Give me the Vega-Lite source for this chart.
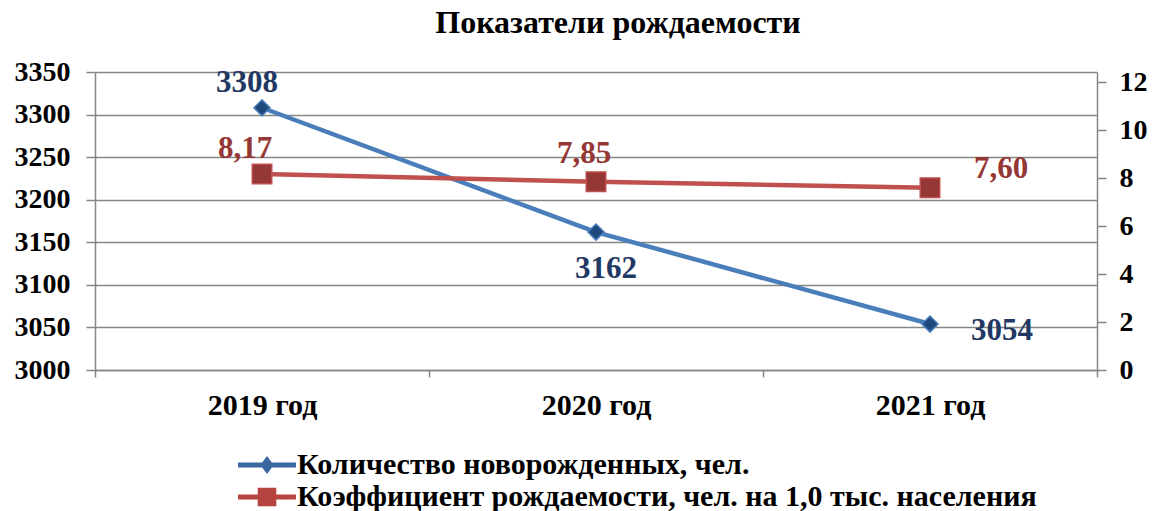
{
  "$schema": "https://vega.github.io/schema/vega-lite/v6.json",
  "autosize": {"type": "none"},
  "padding": {"left": 95, "top": 72, "right": 58, "bottom": 141},
  "width": 1002,
  "height": 298,
  "config": {
    "view": {"stroke": null},
    "locale": {"number": {"decimal": ",", "thousands": "", "grouping": [3], "currency": ["", ""]}},
    "font": "Liberation Serif"
  },
  "title": {
    "text": "Показатели рождаемости",
    "font": "Liberation Serif",
    "fontSize": 32,
    "fontWeight": "bold",
    "color": "#000000",
    "anchor": "middle",
    "offset": 18,
    "dx": 22
  },
  "data": {
    "values": [
      {"year": "2019 год", "births": 3308, "rate": 8.17},
      {"year": "2020 год", "births": 3162, "rate": 7.85},
      {"year": "2021 год", "births": 3054, "rate": 7.6}
    ]
  },
  "encoding": {
    "x": {
      "field": "year",
      "type": "nominal",
      "bandPosition": 0.5,
      "scale": {"type": "band", "paddingInner": 0, "paddingOuter": 0},
      "axis": {
        "title": null,
        "labelAngle": 0,
        "labelFont": "Liberation Serif",
        "labelFontSize": 30,
        "labelFontWeight": "bold",
        "labelColor": "#000000",
        "labelPadding": 13,
        "tickBand": "extent",
        "tickSize": 7,
        "tickColor": "#868686",
        "tickWidth": 1.5,
        "domainColor": "#868686",
        "domainWidth": 1.5,
        "grid": false
      }
    }
  },
  "layer": [
    {
      "encoding": {
        "y": {
          "field": "births",
          "type": "quantitative",
          "scale": {"domain": [3000, 3350], "nice": false, "zero": false},
          "axis": {
            "orient": "left",
            "title": null,
            "values": [3000, 3050, 3100, 3150, 3200, 3250, 3300, 3350],
            "format": "d",
            "labelFont": "Liberation Serif",
            "labelFontSize": 28,
            "labelFontWeight": "bold",
            "labelColor": "#000000",
            "labelPadding": 16,
            "tickSize": 9,
            "tickColor": "#868686",
            "tickWidth": 1.5,
            "domainColor": "#868686",
            "domainWidth": 1.5,
            "grid": true,
            "gridColor": "#868686",
            "gridWidth": 1.5
          }
        }
      },
      "layer": [
        {
          "mark": {"type": "line", "strokeWidth": 4.5},
          "encoding": {
            "color": {
              "datum": "Количество новорожденных, чел.",
              "type": "nominal",
              "scale": {
                "domain": ["Количество новорожденных, чел.", "Коэффициент рождаемости, чел. на 1,0 тыс. населения"],
                "range": ["#4A7EBB", "#C0504D"]
              },
              "legend": {
                "orient": "none",
                "legendX": 157,
                "legendY": 378,
                "direction": "vertical",
                "title": null,
                "labelFont": "Liberation Serif",
                "labelFontSize": 30,
                "labelFontWeight": "bold",
                "labelColor": "#000000",
                "labelLimit": 2000,
                "labelOffset": 15,
                "symbolSize": 900,
                "rowPadding": 2,
                "encode": {
                  "symbols": {
                    "update": {
                      "shape": {"signal": "datum.value == 'Количество новорожденных, чел.' ? 'M-1.93,-0.16H1.93V0.16H-1.93Z M0,-0.6L0.45,0L0,0.6L-0.45,0Z' : 'M-1.93,-0.16H1.93V0.16H-1.93Z M-0.62,-0.62H0.62V0.62H-0.62Z'"},
                      "fill": {"signal": "datum.value == 'Количество новорожденных, чел.' ? '#3A67A0' : '#B5433F'"},
                      "stroke": {"value": "transparent"},
                      "strokeWidth": {"value": 0}
                    }
                  }
                }
              }
            }
          }
        },
        {
          "mark": {"type": "point", "shape": "diamond", "filled": true, "size": 260, "fill": "#1F497D", "stroke": "#4A7EBB", "strokeWidth": 1.5, "opacity": 1}
        },
        {
          "transform": [{"filter": "datum.year == '2019 год'"}],
          "mark": {"type": "text", "dx": -15, "dy": -25, "font": "Liberation Serif", "fontSize": 31, "fontWeight": "bold", "color": "#1F3864", "baseline": "middle"},
          "encoding": {"text": {"field": "births", "type": "quantitative", "format": "d"}}
        },
        {
          "transform": [{"filter": "datum.year == '2020 год'"}],
          "mark": {"type": "text", "dx": 10, "dy": 37, "font": "Liberation Serif", "fontSize": 31, "fontWeight": "bold", "color": "#1F3864", "baseline": "middle"},
          "encoding": {"text": {"field": "births", "type": "quantitative", "format": "d"}}
        },
        {
          "transform": [{"filter": "datum.year == '2021 год'"}],
          "mark": {"type": "text", "dx": 72, "dy": 7, "font": "Liberation Serif", "fontSize": 31, "fontWeight": "bold", "color": "#1F3864", "baseline": "middle"},
          "encoding": {"text": {"field": "births", "type": "quantitative", "format": "d"}}
        }
      ]
    },
    {
      "encoding": {
        "y": {
          "field": "rate",
          "type": "quantitative",
          "scale": {"domain": [0, 12.42], "nice": false, "zero": true},
          "axis": {
            "orient": "right",
            "title": null,
            "values": [0, 2, 4, 6, 8, 10, 12],
            "format": "d",
            "labelFont": "Liberation Serif",
            "labelFontSize": 28,
            "labelFontWeight": "bold",
            "labelColor": "#000000",
            "labelPadding": 13,
            "tickSize": 9,
            "tickColor": "#868686",
            "tickWidth": 1.5,
            "domainColor": "#868686",
            "domainWidth": 1.5,
            "grid": false
          }
        }
      },
      "layer": [
        {
          "mark": {"type": "line", "strokeWidth": 4.5},
          "encoding": {
            "color": {
              "datum": "Коэффициент рождаемости, чел. на 1,0 тыс. населения",
              "type": "nominal"
            }
          }
        },
        {
          "mark": {"type": "point", "shape": "square", "filled": true, "size": 380, "fill": "#953735", "stroke": "#C0504D", "strokeWidth": 1.5, "opacity": 1}
        },
        {
          "transform": [{"filter": "datum.year == '2019 год'"}],
          "mark": {"type": "text", "dx": -17, "dy": -25, "font": "Liberation Serif", "fontSize": 31, "fontWeight": "bold", "color": "#953735", "baseline": "middle"},
          "encoding": {"text": {"field": "rate", "type": "quantitative", "format": ".2f"}}
        },
        {
          "transform": [{"filter": "datum.year == '2020 год'"}],
          "mark": {"type": "text", "dx": -12, "dy": -28, "font": "Liberation Serif", "fontSize": 31, "fontWeight": "bold", "color": "#953735", "baseline": "middle"},
          "encoding": {"text": {"field": "rate", "type": "quantitative", "format": ".2f"}}
        },
        {
          "transform": [{"filter": "datum.year == '2021 год'"}],
          "mark": {"type": "text", "dx": 71, "dy": -19, "font": "Liberation Serif", "fontSize": 31, "fontWeight": "bold", "color": "#953735", "baseline": "middle"},
          "encoding": {"text": {"field": "rate", "type": "quantitative", "format": ".2f"}}
        }
      ]
    }
  ],
  "resolve": {"scale": {"y": "independent"}, "axis": {"y": "independent"}}
}
